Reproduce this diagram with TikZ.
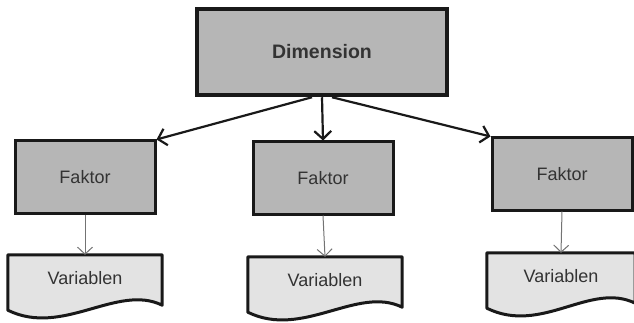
\documentclass[tikz,border=0pt]{standalone}
\usepackage{fontspec}
\setmainfont{Liberation Sans}
\usepackage{tikz}
\usetikzlibrary{calc,arrows.meta,backgrounds}
\definecolor{boxgray}{HTML}{B6B6B6}
\definecolor{varfill}{HTML}{E3E3E3}
\definecolor{txtgray}{HTML}{333333}

\begin{document}
\begin{tikzpicture}[x=1pt,y=-1pt,
  faktor/.style={draw=black!90, line width=3pt, fill=boxgray, minimum width=140pt,
    minimum height=72pt, text=txtgray, font=\fontsize{18}{21}\selectfont},
  vartext/.style={minimum width=154pt, minimum height=46pt, inner sep=0pt,
    text=txtgray, font=\fontsize{18}{21}\selectfont},
  varbox/.style={draw=black!90, line width=3pt, fill=varfill, line join=round},
  bigarrow/.style={line width=2.2pt, black!90, -{Straight Barb[length=8pt,width=17pt]}},
  smallarrow/.style={line width=1pt, gray!90!black, -{Straight Barb[length=7pt,width=15pt]}}]
\useasboundingbox (0,0) rectangle (634,323);

% dimension
\node[faktor, line width=4.5pt, minimum width=250pt, minimum height=86pt,
  font=\fontsize{19.5}{22}\selectfont\bfseries] (dim) at (322,52) {Dimension};

% factors
\node[faktor] (f1) at (85,177) {Faktor};
\node[faktor] (f2) at (323,178) {Faktor};
\node[faktor] (f3) at (562,174) {Faktor};

% variables
\node[vartext] (v1) at (85,278) {Variablen};
\node[vartext] (v2) at (325,280) {Variablen};
\node[vartext, minimum width=148pt] (v3) at (561,276) {Variablen};
\begin{scope}[on background layer]
\foreach \v in {v1,v2,v3}
{
\draw[varbox] (\v.north west) -- (\v.north east) -- ($(\v.south east)+(0,4)$)
  .. controls ($(\v.south east)+(-45,-18)$) and ($(\v.south west)+(55,36)$) .. ($(\v.south west)+(0,9)$)
  -- cycle;
}
\end{scope}

% connectors
\draw[bigarrow] ($(dim.south)+(-10,0)$) -- (f1.north east);
\draw[bigarrow] (dim.south) -- (f2.north);
\draw[bigarrow] ($(dim.south)+(10,0)$) -- (f3.north west);
\draw[smallarrow] (f1.south) -- (v1.north);
\draw[smallarrow] (f2.south) -- (v2.north);
\draw[smallarrow] (f3.south) -- (v3.north);
\end{tikzpicture}
\end{document}
